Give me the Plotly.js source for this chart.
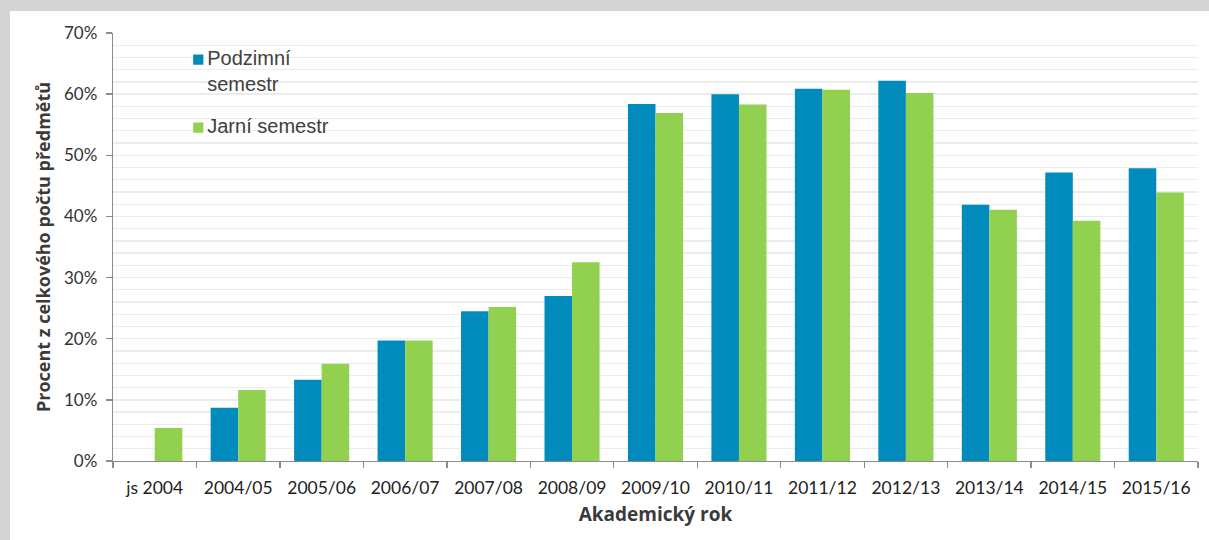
<!DOCTYPE html>
<html>
<head>
<meta charset="utf-8">
<script src="https://cdn.plot.ly/plotly-3.0.1.min.js"></script>
<style>
  html, body { margin: 0; padding: 0; background: #d4d5d7; width: 1209px; height: 540px; overflow: hidden; }
  #chart { position: absolute; left: 10px; top: 11px; width: 1199px; height: 529px; background: #fff; }
</style>
</head>
<body>
<div id="chart"></div>
<script>
const categories = ["js 2004", "2004/05", "2005/06", "2006/07", "2007/08", "2008/09", "2009/10", "2010/11", "2011/12", "2012/13", "2013/14", "2014/15", "2015/16"];
const podzimni = [null, 8.7, 13.3, 19.7, 24.5, 27.0, 58.4, 60.0, 60.9, 62.2, 41.9, 47.2, 47.9];
const jarni = [5.4, 11.6, 15.9, 19.7, 25.2, 32.5, 56.9, 58.3, 60.7, 60.2, 41.1, 39.3, 43.9];
const seriesNames = ["Podzimní<br>semestr", "Jarní semestr"];
const yTickVals = [0, 10, 20, 30, 40, 50, 60, 70];
const yTickText = ["0%", "10%", "20%", "30%", "40%", "50%", "60%", "70%"];

const data = [
  { type: "bar", x: categories, y: podzimni, name: seriesNames[0], legendgroup: "a",
    marker: { color: "#008bbc" }, hoverinfo: "skip" },
  { type: "bar", x: categories, y: jarni, name: seriesNames[1], legendgroup: "b",
    marker: { color: "#92d050" }, hoverinfo: "skip" }
];

const layout = {
  width: 1199, height: 529,
  margin: { l: 103, r: 11, t: 21.5, b: 79 },
  paper_bgcolor: "#ffffff", plot_bgcolor: "#ffffff",
  barmode: "group", bargap: 0.34, bargroupgap: 0,
  showlegend: true,
  legend: {
    x: 0.05, y: 0.988, xanchor: "left", yanchor: "top",
    bgcolor: "rgba(0,0,0,0)", traceorder: "grouped", tracegroupgap: 13,
    valign: "top",
    font: { family: "Liberation Sans, Arial, sans-serif", size: 20, color: "#404040" }
  },
  xaxis: {
    type: "category",
    showline: true, linecolor: "#8c8c8c", linewidth: 1.3,
    ticks: "outside", tickson: "boundaries", ticklen: 6, tickcolor: "#8c8c8c", tickwidth: 1.3,
    showgrid: false,
    tickfont: { family: "Lato, sans-serif", size: 17.5, color: "#222" },
    ticklabelstandoff: 11,
    title: { text: "Akademický rok", font: { family: "Open Sans, sans-serif", size: 19, color: "#3a3a3a", weight: "bold" }, standoff: 10 }
  },
  yaxis: {
    range: [0, 70], fixedrange: true,
    tickvals: yTickVals, ticktext: yTickText,
    showline: true, linecolor: "#8c8c8c", linewidth: 1.3,
    ticks: "outside", ticklen: 6, tickcolor: "#8c8c8c", tickwidth: 1.3,
    showgrid: true, gridcolor: "#ececec", gridwidth: 1.3,
    zeroline: false,
    minor: { dtick: 2, showgrid: true, gridcolor: "#ececec", gridwidth: 1.3, ticks: "" },
    tickfont: { family: "Lato, sans-serif", size: 17, color: "#333" },
    ticklabelstandoff: 5,
    title: { text: "Procent z celkového počtu předmětů", font: { family: "Open Sans, sans-serif", size: 18, color: "#3a3a3a", weight: "bold" }, standoff: 8 }
  }
};

Plotly.newPlot("chart", data, layout, { staticPlot: true, displayModeBar: false }).then(function (gd) {
  gd.querySelectorAll(".legend .legendpoints").forEach(function (g) {
    const t = g.getAttribute("transform") || "";
    g.setAttribute("transform", t + " translate(31,2) scale(0.85) translate(-20,0)");
  });
});
</script>
</body>
</html>
